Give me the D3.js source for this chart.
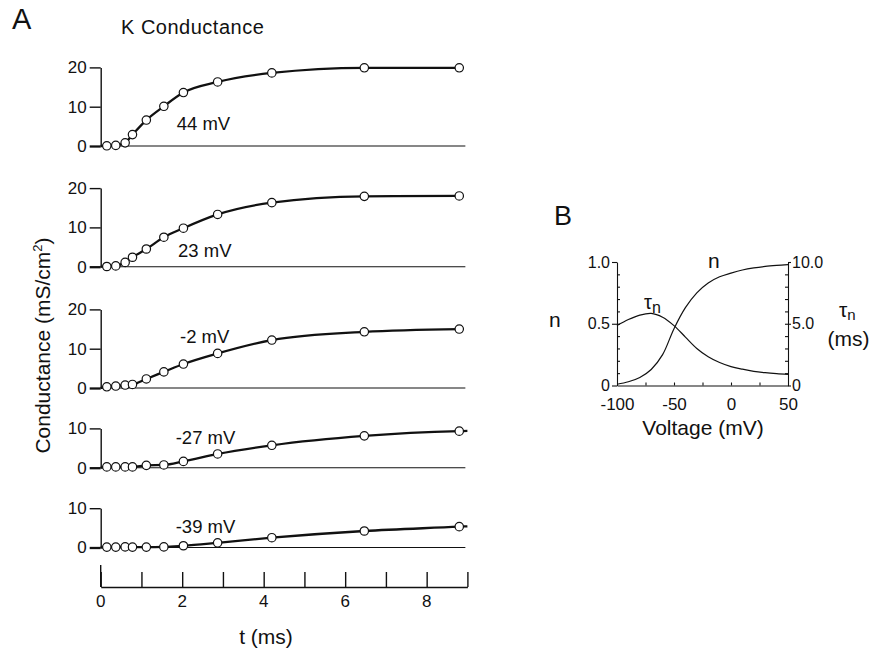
<!DOCTYPE html>
<html>
<head>
<meta charset="utf-8">
<script src="https://cdn.jsdelivr.net/npm/d3@7"></script>
<style>
  body { margin: 0; background: #fff; }
  svg { display: block; }
  text { font-family: "Liberation Sans", Arial, Helvetica, sans-serif; fill: #111; }
</style>
</head>
<body>
<svg id="fig" width="872" height="653"></svg>
<script>
// ---- Panel A: K conductance time courses at several membrane voltages ----
const times = [0.15, 0.37, 0.6, 0.78, 1.12, 1.55, 2.03, 2.87, 4.2, 6.47, 8.8]; // ms
const voltageLabels = ["44 mV", "23 mV", "-2 mV", "-27 mV", "-39 mV"];
const g44  = [0.05, 0.15, 0.8, 2.9, 6.6, 10.1, 13.6, 16.3, 18.6, 19.9, 19.9];
const g23  = [0.05, 0.2, 1.1, 2.4, 4.5, 7.5, 9.8, 13.3, 16.3, 17.9, 18.0];
const gm2  = [0.3, 0.5, 0.75, 0.9, 2.3, 4.1, 6.1, 8.8, 12.2, 14.3, 15.0];
const gm27 = [0.2, 0.2, 0.2, 0.2, 0.6, 0.7, 1.6, 3.5, 5.7, 8.1, 9.3];
const gm39 = [0.1, 0.1, 0.15, 0.1, 0.1, 0.15, 0.45, 1.2, 2.5, 4.2, 5.3];
const gSeries = [g44, g23, gm2, gm27, gm39];
const curveTail = [null, null, null, 9.35, 5.4];   // fitted value at 9 ms, where the trace runs on
const yAxisMax = [20, 20, 20, 10, 10];
const timeTicks = [0, 1, 2, 3, 4, 5, 6, 7, 8, 9];
const timeTickLabels = [0, 2, 4, 6, 8];

// ---- Panel B: steady-state n and its time constant versus voltage ----
const voltage = [-100, -90, -80, -70, -60, -50, -40, -30, -20, -10, 0, 10, 20, 30, 40, 50];
const nInf    = [0.01, 0.03, 0.065, 0.13, 0.25, 0.46, 0.63, 0.75, 0.83, 0.88, 0.91, 0.935, 0.952, 0.964, 0.972, 0.978];
const tauN    = [4.85, 5.34, 5.7, 5.84, 5.53, 4.85, 3.92, 3.0, 2.33, 1.86, 1.53, 1.32, 1.15, 1.04, 0.96, 0.9];
const voltageTicks = [-100, -50, 0, 50];

const svg = d3.select("#fig");
const ink = "#111";

// shared time axis
const x = d3.scaleLinear().domain([0, 9]).range([100.7, 467.4]);
const pxPerUnit = 3.93;
const zeroY = [146, 266.7, 388, 467.7, 547.5];
const labelPos = [[176.7, 129.5], [178, 257], [180, 343], [175.7, 444], [175.7, 532.5]];

svg.append("text").attr("x", 12).attr("y", 28.5).attr("font-size", 29).text("A");
svg.append("text").attr("x", 121).attr("y", 34.3).attr("font-size", 20)
  .attr("letter-spacing", 0.5).text("K Conductance");

gSeries.forEach((vals, i) => {
  const top = yAxisMax[i];
  const y = d3.scaleLinear().domain([0, top]).range([zeroY[i], zeroY[i] - top * pxPerUnit]);
  const g = svg.append("g");

  // baseline
  g.append("line")
    .attr("x1", x(0)).attr("x2", x(8.95))
    .attr("y1", y(0)).attr("y2", y(0))
    .attr("stroke", ink).attr("stroke-width", 1.1);

  // fitted trace
  const pts = [[0, 0]].concat(times.map((t, k) => [t, vals[k]]));
  if (curveTail[i] !== null) pts.push([9.0, curveTail[i]]);
  g.append("path")
    .attr("d", d3.line().x(d => x(d[0])).y(d => y(d[1])).curve(d3.curveMonotoneX)(pts))
    .attr("fill", "none").attr("stroke", ink).attr("stroke-width", 2.3);

  // measured points
  g.selectAll("circle").data(times.map((t, k) => [t, vals[k]])).join("circle")
    .attr("cx", d => x(d[0])).attr("cy", d => y(d[1])).attr("r", 4.2)
    .attr("fill", "#fff").attr("stroke", ink).attr("stroke-width", 1.2);

  // y axis
  const ax = g.append("g").attr("transform", `translate(${x(0)},0)`)
    .call(d3.axisLeft(y).tickValues(d3.range(0, top + 1, 10)).tickSize(11).tickSizeOuter(0).tickPadding(3));
  ax.selectAll("path,line").attr("stroke", ink).attr("stroke-width", 1.4);
  ax.selectAll("text").attr("font-size", 17).attr("fill", ink)
    .attr("font-family", '"Liberation Sans", Arial, sans-serif');
  ax.select("g.tick line").attr("stroke-width", 2.3);

  g.append("text").attr("x", labelPos[i][0]).attr("y", labelPos[i][1])
    .attr("font-size", 18.5).text(voltageLabels[i]);
});

// time axis, ticks pointing up
const axisY = 587;
const tax = svg.append("g").attr("transform", `translate(0,${axisY})`)
  .call(d3.axisTop(x).tickValues(timeTicks).tickSize(15).tickSizeOuter(0).tickFormat(""));
tax.selectAll("path,line").attr("stroke", ink).attr("stroke-width", 1.4);
svg.append("line").attr("x1", x(0)).attr("x2", x(0)).attr("y1", axisY).attr("y2", axisY - 22)
  .attr("stroke", ink).attr("stroke-width", 1.4);
svg.selectAll("text.tl").data(timeTickLabels).join("text").attr("class", "tl")
  .attr("x", d => x(d)).attr("y", 607).attr("text-anchor", "middle")
  .attr("font-size", 17).text(d => d);
svg.append("text").attr("x", 266).attr("y", 644).attr("text-anchor", "middle")
  .attr("font-size", 21).text("t (ms)");

// y title
const yt = svg.append("text")
  .attr("transform", "translate(49.5,345.5) rotate(-90)")
  .attr("text-anchor", "middle").attr("font-size", 21);
yt.append("tspan").text("Conductance (mS/cm");
yt.append("tspan").attr("font-size", 13).attr("dy", -8).text("2");
yt.append("tspan").attr("dy", 8).text(")");

// ---- Panel B ----
const xB = d3.scaleLinear().domain([-100, 50]).range([617, 788]);
const yN = d3.scaleLinear().domain([0, 1]).range([385.5, 262]);
const yT = d3.scaleLinear().domain([0, 10]).range([385.5, 262]);

svg.append("text").attr("x", 554).attr("y", 225).attr("font-size", 27).text("B");

function styleAxis(sel, size) {
  sel.selectAll("path,line").attr("stroke", ink).attr("stroke-width", 1.1);
  sel.selectAll("text").attr("font-size", size).attr("fill", ink)
    .attr("font-family", '"Liberation Sans", Arial, sans-serif');
}

const fmtN = d => d === 0 ? "0" : d3.format(".1f")(d);
styleAxis(svg.append("g").attr("transform", `translate(${xB(-100)},0)`)
  .call(d3.axisLeft(yN).tickValues([0, 0.5, 1]).tickSize(5).tickSizeOuter(0).tickPadding(2).tickFormat(fmtN)), 16);
styleAxis(svg.append("g").attr("transform", `translate(${xB(-100)},0)`)
  .call(d3.axisRight(yN).tickValues(d3.range(1, 10).map(k => k / 10)).tickSize(3).tickFormat(""))
  .call(s => s.select(".domain").remove()), 16);
styleAxis(svg.append("g").attr("transform", `translate(${xB(50)},0)`)
  .call(d3.axisRight(yT).tickValues([0, 5, 10]).tickSize(3).tickSizeOuter(0).tickPadding(1).tickFormat(fmtN)), 16);
styleAxis(svg.append("g").attr("transform", `translate(${xB(50)},0)`)
  .call(d3.axisLeft(yT).tickValues(d3.range(1, 10)).tickSize(3).tickFormat(""))
  .call(s => s.select(".domain").remove()), 16);
styleAxis(svg.append("g").attr("transform", `translate(0,${yN(0)})`)
  .call(d3.axisBottom(xB).tickValues(voltageTicks).tickSize(0).tickSizeOuter(0).tickPadding(12)
    .tickFormat(d => String(d))), 17);
styleAxis(svg.append("g").attr("transform", `translate(0,${yN(0)})`)
  .call(d3.axisTop(xB).tickValues([-75, -50, -25, 0, 25]).tickSize(3).tickFormat(""))
  .call(s => s.select(".domain").remove()), 16);

svg.append("path")
  .attr("d", d3.line().x((d, k) => xB(voltage[k])).y(d => yN(d)).curve(d3.curveCatmullRom)(nInf))
  .attr("fill", "none").attr("stroke", ink).attr("stroke-width", 1.2);
svg.append("path")
  .attr("d", d3.line().x((d, k) => xB(voltage[k])).y(d => yT(d)).curve(d3.curveCatmullRom)(tauN))
  .attr("fill", "none").attr("stroke", ink).attr("stroke-width", 1.2);

// curve labels
svg.append("text").attr("x", 708).attr("y", 268).attr("font-size", 21).text("n");
const tl = svg.append("text").attr("x", 644).attr("y", 308.5).attr("font-size", 20);
tl.append("tspan").text("τ");
tl.append("tspan").attr("font-size", 16).attr("dy", 4).text("n");

// axis titles
svg.append("text").attr("x", 549).attr("y", 327).attr("font-size", 21).text("n");
const tr = svg.append("text").attr("x", 839).attr("y", 317).attr("font-size", 21);
tr.append("tspan").text("τ");
tr.append("tspan").attr("font-size", 15).attr("dy", 3).text("n");
svg.append("text").attr("x", 848.5).attr("y", 346).attr("text-anchor", "middle")
  .attr("font-size", 21).text("(ms)");
svg.append("text").attr("x", 703).attr("y", 435).attr("text-anchor", "middle")
  .attr("font-size", 21).text("Voltage (mV)");
</script>
</body>
</html>
